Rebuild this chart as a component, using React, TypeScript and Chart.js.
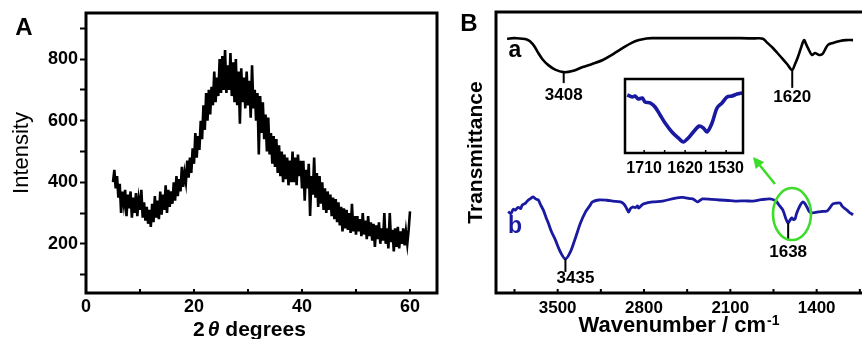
import React, { useEffect, useRef } from 'react';
import { Chart, registerables } from 'chart.js';
Chart.register(...registerables);

const FONT = 'Arial, "Liberation Sans", Helvetica, sans-serif';
Chart.defaults.font.family = FONT;
Chart.defaults.color = '#000';

const BLUE = '#1a1aa0';
const GREEN = '#3ddc2a';

// ---------- Panel A: XRD (2θ from 5° to 60°, 0.25° sampling) ----------
const xrdStart = 5;
const xrdStep = 0.25;
const xrdIntensity = [
  400, 440, 380, 420, 350, 395, 300, 370, 330, 375, 290, 360, 315, 370, 285, 350, 300, 365, 290, 345,
  310, 375, 285, 335, 275, 320, 265, 310, 255, 330, 270, 355, 285, 340, 280, 370, 295, 360, 310, 390,
  300, 375, 320, 370, 330, 400, 340, 420, 355, 410, 370, 450, 385, 430, 400, 470, 415, 480, 430, 510,
  460, 560, 480, 550, 505, 600, 540, 650, 570, 690, 600, 700, 620, 710, 650, 760, 660, 740, 680, 800,
  690, 810, 700, 830, 690, 780, 700, 820, 680, 790, 660, 800, 650, 760, 590, 770, 660, 740, 640, 760,
  650, 730, 610, 780, 640, 700, 600, 690, 490, 680, 560, 660, 540, 620, 500, 610, 490, 560, 460, 550,
  450, 540, 430, 520, 420, 500, 400, 490, 410, 480, 390, 470, 400, 500, 400, 480, 390, 490, 420, 470,
  380, 470, 340, 440, 380, 460, 290, 420, 360, 480, 350, 430, 320, 420, 330, 400, 310, 380, 300, 370,
  310, 360, 290, 350, 280, 345, 270, 335, 260, 320, 240, 315, 250, 310, 245, 300, 235, 330, 240, 290,
  230, 290, 240, 280, 225, 300, 230, 275, 215, 290, 225, 270, 210, 265, 190, 260, 215, 270, 200, 250,
  210, 300, 200, 250, 185, 300, 205, 245, 175, 250, 190, 255, 185, 240, 200, 250, 195, 240, 200, 245,
  305,
];
const xrdAngles = xrdIntensity.map((_, i) => xrdStart + i * xrdStep);
const xTicksA = [0, 10, 20, 30, 40, 50, 60];
const yTicksA = [100, 200, 300, 400, 500, 600, 700, 800, 900];

// ---------- Panel B: FTIR ----------
const waveA = [3910, 3850, 3750, 3700, 3657, 3620, 3576, 3520, 3451, 3380, 3297, 3220, 3134, 3050, 2971, 2900, 2841, 2780, 2730, 2400, 2023, 1900, 1836, 1800, 1755, 1720, 1682, 1640, 1600, 1575, 1552, 1525, 1503, 1490, 1471, 1438, 1414, 1390, 1373, 1350, 1333, 1308, 1268, 1211, 1160, 1105];
const transA = [90.5, 90.7, 90.2, 88.5, 85.4, 83.0, 81.1, 79.5, 78.6, 79.0, 80.4, 81.5, 82.9, 85.0, 87.2, 89.0, 90.0, 90.6, 90.7, 90.7, 90.7, 90.6, 90.5, 89.0, 87.2, 85.5, 83.6, 81.5, 79.4, 81.5, 84.0, 87.5, 90.0, 89.0, 87.2, 84.7, 85.4, 84.9, 84.7, 85.2, 86.5, 88.3, 89.0, 89.7, 90.0, 90.0];

const waveB = [3901, 3880, 3860, 3844, 3820, 3800, 3787, 3760, 3738, 3720, 3698, 3680, 3657, 3640, 3616, 3595, 3576, 3550, 3519, 3478, 3437, 3397, 3356, 3315, 3275, 3240, 3218, 3169, 3100, 3055, 2990, 2960, 2940, 2925, 2910, 2893, 2870, 2852, 2844, 2820, 2803, 2730, 2649, 2543, 2487, 2430, 2405, 2380, 2365, 2345, 2324, 2250, 2186, 2100, 2048, 1980, 1918, 1850, 1780, 1740, 1723, 1700, 1674, 1650, 1633, 1615, 1601, 1590, 1576, 1565, 1552, 1530, 1511, 1495, 1479, 1460, 1438, 1420, 1397, 1360, 1316, 1290, 1268, 1240, 1211, 1195, 1186, 1170, 1154, 1129, 1105];
const transB = [29.0, 28.2, 29.8, 29.5, 30.5, 30.0, 31.3, 32.0, 33.1, 33.6, 34.2, 33.5, 33.1, 31.5, 29.5, 27.0, 24.9, 21.8, 18.9, 14.6, 12.1, 14.6, 19.6, 24.9, 28.8, 31.0, 32.4, 33.1, 33.0, 32.7, 32.4, 31.5, 30.0, 28.8, 30.0, 30.6, 30.4, 31.0, 30.2, 31.2, 31.7, 32.4, 32.7, 33.8, 34.0, 33.6, 33.5, 32.8, 32.4, 33.0, 33.5, 33.3, 33.1, 32.9, 32.7, 32.8, 32.7, 33.2, 33.5, 33.0, 32.4, 31.0, 29.5, 26.5, 24.9, 26.0, 26.7, 26.2, 26.3, 28.0, 29.5, 31.5, 32.4, 31.8, 30.6, 29.0, 28.5, 28.6, 28.8, 29.0, 29.2, 30.5, 31.7, 32.0, 32.0, 31.0, 30.6, 30.0, 29.5, 28.5, 27.8];
const xTicksB = [1050, 1400, 1750, 2100, 2450, 2800, 3150, 3500, 3850];

// Inset (curve b, 1750–1495 cm-1)
const waveInset = [1747, 1736, 1730, 1723, 1714, 1708, 1697, 1686, 1675, 1664, 1649, 1635, 1624, 1613, 1602, 1589, 1580, 1572, 1561, 1550, 1539, 1528, 1517, 1506, 1495];
const transInset = [78.4, 75.7, 77.0, 73.0, 74.3, 68.9, 67.6, 62.2, 51.4, 40.5, 28.4, 20.3, 14.9, 20.3, 28.4, 36.5, 33.8, 28.4, 40.5, 60.8, 67.6, 75.7, 77.0, 79.7, 81.1];
const xTicksInset = [1530, 1575, 1620, 1665, 1710];

// Peak annotations
const peakLabels = ['3408', '1620', '3435', '1638'];
const peakWave = [3451, 1598, 3437, 1631];
const peakCurveT = [78.6, 79.4, 12.1, 24.9];
const peakLineEndT = [74.7, 73.0, 7.5, 18.9];
const peakTextT = [70.5, 69.6, 5.3, 14.6];
const peakTextDx = [0, 0, 10, 0];

const seriesNames = ['a', 'b'];
const seriesNameWave = [3846, 3846];
const seriesNameT = [86.1, 23.5];

const circleWave = 1600;
const circleT = 28.1;
const arrowFrom = [1738, 38.8];
const arrowTo = [1916, 48.4];

const setTicks = (vals: number[]) => (s: any) => {
  s.ticks = vals.map((value) => ({ value }));
};

function inwardTicks(chart: any, len: number, width: number) {
  const { ctx, chartArea: ca } = chart;
  const xs = chart.scales.x;
  ctx.save();
  ctx.strokeStyle = '#000';
  ctx.lineWidth = width;
  ctx.beginPath();
  xs.ticks.forEach((t: any) => {
    const px = xs.getPixelForValue(t.value);
    ctx.moveTo(px, ca.bottom);
    ctx.lineTo(px, ca.bottom - len);
  });
  ctx.stroke();
  ctx.restore();
}

function box(chart: any, w: number) {
  const { ctx, chartArea: ca } = chart;
  ctx.save();
  ctx.strokeStyle = '#000';
  ctx.lineWidth = w;
  ctx.strokeRect(ca.left, ca.top, ca.right - ca.left, ca.bottom - ca.top);
  ctx.restore();
}

const panelAPlugin = {
  id: 'panelA',
  afterDraw(chart: any) {
    const { ctx, chartArea: ca } = chart;
    box(chart, 3);
    inwardTicks(chart, 4, 2);
    ctx.save();
    ctx.fillStyle = '#000';
    ctx.textBaseline = 'middle';
    ctx.textAlign = 'center';
    ctx.font = `bold 24px ${FONT}`;
    ctx.fillText('A', 24, 28);
    // x title: 2θ degrees
    const y = 330;
    const cx = (ca.left + ca.right) / 2 - 12;
    ctx.textAlign = 'left';
    ctx.font = `bold 21px ${FONT}`;
    const w1 = ctx.measureText('2').width;
    const w3 = ctx.measureText(' degrees').width;
    ctx.font = `italic bold 21px ${FONT}`;
    const w2 = ctx.measureText('θ').width;
    let x = cx - (w1 + w2 + w3 + 3) / 2;
    ctx.font = `bold 21px ${FONT}`;
    ctx.fillText('2', x, y);
    x += w1 + 3;
    ctx.font = `italic bold 21px ${FONT}`;
    ctx.fillText('θ', x, y);
    x += w2;
    ctx.font = `bold 21px ${FONT}`;
    ctx.fillText(' degrees', x, y);
    ctx.restore();
  },
};

const panelBPlugin = {
  id: 'panelB',
  afterDraw(chart: any) {
    const { ctx, chartArea: ca } = chart;
    const xs = chart.scales.x;
    const ys = chart.scales.y;
    box(chart, 3);
    inwardTicks(chart, 4, 2);
    ctx.save();
    // peak annotations
    ctx.strokeStyle = '#000';
    ctx.lineWidth = 2;
    ctx.fillStyle = '#000';
    ctx.font = `bold 17px ${FONT}`;
    ctx.textAlign = 'center';
    ctx.textBaseline = 'middle';
    peakLabels.forEach((lab, i) => {
      const px = xs.getPixelForValue(peakWave[i]);
      ctx.beginPath();
      ctx.moveTo(px, ys.getPixelForValue(peakCurveT[i]));
      ctx.lineTo(px, ys.getPixelForValue(peakLineEndT[i]));
      ctx.stroke();
      ctx.fillText(lab, px + peakTextDx[i], ys.getPixelForValue(peakTextT[i]));
    });
    // series names
    ctx.font = `bold 23px ${FONT}`;
    seriesNames.forEach((n, i) => {
      ctx.fillStyle = i === 0 ? '#000' : BLUE;
      ctx.fillText(n, xs.getPixelForValue(seriesNameWave[i]), ys.getPixelForValue(seriesNameT[i]));
    });
    // green ellipse
    ctx.strokeStyle = GREEN;
    ctx.lineWidth = 2.6;
    ctx.beginPath();
    ctx.ellipse(xs.getPixelForValue(circleWave), ys.getPixelForValue(circleT), 19, 26, 0, 0, Math.PI * 2);
    ctx.stroke();
    // green arrow
    const x1 = xs.getPixelForValue(arrowFrom[0]);
    const y1 = ys.getPixelForValue(arrowFrom[1]);
    const x2 = xs.getPixelForValue(arrowTo[0]);
    const y2 = ys.getPixelForValue(arrowTo[1]);
    const ang = Math.atan2(y2 - y1, x2 - x1);
    const hl = 11;
    const hw = 5.5;
    const bx = x2 - hl * Math.cos(ang);
    const by = y2 - hl * Math.sin(ang);
    ctx.beginPath();
    ctx.moveTo(x1, y1);
    ctx.lineTo(bx, by);
    ctx.stroke();
    ctx.fillStyle = GREEN;
    ctx.beginPath();
    ctx.moveTo(x2, y2);
    ctx.lineTo(bx + hw * Math.sin(ang), by - hw * Math.cos(ang));
    ctx.lineTo(bx - hw * Math.sin(ang), by + hw * Math.cos(ang));
    ctx.closePath();
    ctx.fill();
    // panel letter
    ctx.fillStyle = '#000';
    ctx.font = `bold 24px ${FONT}`;
    ctx.fillText('B', 29, 24);
    // x title: Wavenumber / cm-1
    ctx.textAlign = 'left';
    ctx.font = `bold 22px ${FONT}`;
    const main = 'Wavenumber / cm';
    const wm = ctx.measureText(main).width;
    ctx.font = `bold 14px ${FONT}`;
    const ws = ctx.measureText('-1').width;
    const cx = (ca.left + 422) / 2;
    const sx = cx - (wm + ws + 1) / 2;
    ctx.font = `bold 22px ${FONT}`;
    ctx.fillText(main, sx, 326);
    ctx.font = `bold 14px ${FONT}`;
    ctx.fillText('-1', sx + wm + 1, 321);
    ctx.restore();
  },
};

const insetPlugin = {
  id: 'inset',
  afterDraw(chart: any) {
    box(chart, 2.5);
    inwardTicks(chart, 3, 1.5);
  },
};

export default function App() {
  const aRef = useRef<HTMLCanvasElement>(null);
  const bRef = useRef<HTMLCanvasElement>(null);
  const iRef = useRef<HTMLCanvasElement>(null);

  useEffect(() => {
    const tickFont = (size: number) => ({ size, weight: 'bold' as const, family: FONT });

    const chartA = new Chart(aRef.current!, {
      type: 'line',
      data: {
        datasets: [
          {
            data: xrdAngles.map((x, i) => ({ x, y: xrdIntensity[i] })),
            borderColor: '#000',
            borderWidth: 2.6,
            pointRadius: 0,
            tension: 0,
          },
        ],
      },
      options: {
        responsive: false,
        animation: false,
        layout: { padding: { left: 0, right: 3, top: 13, bottom: 0 } },
        plugins: { legend: { display: false }, tooltip: { enabled: false } },
        scales: {
          x: {
            type: 'linear',
            min: 0,
            max: 65,
            afterBuildTicks: setTicks(xTicksA),
            afterFit: (s: any) => { s.height = 46; },
            grid: { display: false },
            border: { display: false },
            ticks: {
              autoSkip: false,
              maxRotation: 0,
              padding: -5,
              color: '#000',
              font: tickFont(18),
              callback: (v: any) => (Number(v) % 20 === 0 ? String(v) : ''),
            },
          },
          y: {
            type: 'linear',
            min: 40,
            max: 950,
            afterBuildTicks: setTicks(yTicksA),
            afterFit: (s: any) => { s.width = 86; },
            border: { display: false },
            grid: { drawOnChartArea: false, drawTicks: true, tickLength: 6, tickWidth: 2, tickColor: '#000' },
            ticks: {
              autoSkip: false,
              padding: 2,
              color: '#000',
              font: tickFont(18),
              callback: (v: any) => (Number(v) % 200 === 0 ? String(v) : ''),
            },
            title: {
              display: true,
              text: 'Intensity',
              color: '#000',
              font: { size: 22, family: FONT },
              padding: { top: 9, bottom: 0 },
            },
          },
        },
      },
      plugins: [panelAPlugin],
    } as any);

    const chartB = new Chart(bRef.current!, {
      type: 'line',
      data: {
        datasets: [
          {
            data: waveA.map((x, i) => ({ x, y: transA[i] })),
            borderColor: '#000',
            borderWidth: 2.6,
            pointRadius: 0,
            tension: 0.35,
          },
          {
            data: waveB.map((x, i) => ({ x, y: transB[i] })),
            borderColor: BLUE,
            borderWidth: 2.8,
            pointRadius: 0,
            tension: 0.3,
          },
        ],
      },
      options: {
        responsive: false,
        animation: false,
        layout: { padding: { left: 0, right: 0, top: 12, bottom: 0 } },
        plugins: { legend: { display: false }, tooltip: { enabled: false } },
        scales: {
          x: {
            type: 'linear',
            min: 1008,
            max: 4000,
            reverse: true,
            afterBuildTicks: setTicks(xTicksB),
            afterFit: (s: any) => { s.height = 46; },
            grid: { display: false },
            border: { display: false },
            ticks: {
              autoSkip: false,
              maxRotation: 0,
              padding: -3,
              color: '#000',
              font: tickFont(17),
              callback: (v: any) => (Number(v) % 700 === 0 ? String(v) : ''),
            },
          },
          y: {
            type: 'linear',
            min: 0,
            max: 100,
            afterFit: (s: any) => { s.width = 56; },
            grid: { display: false },
            border: { display: false },
            ticks: { display: false },
            title: {
              display: true,
              text: 'Transmittance',
              color: '#000',
              font: { size: 21, weight: 'bold', family: FONT },
              padding: { top: 24, bottom: 0 },
            },
          },
        },
      },
      plugins: [panelBPlugin],
    } as any);

    const chartI = new Chart(iRef.current!, {
      type: 'line',
      data: {
        datasets: [
          {
            data: waveInset.map((x, i) => ({ x, y: transInset[i] })),
            borderColor: BLUE,
            borderWidth: 3.6,
            pointRadius: 0,
            tension: 0.3,
          },
        ],
      },
      options: {
        responsive: false,
        animation: false,
        layout: { padding: { left: 15, right: 17, top: 9, bottom: 0 } },
        plugins: { legend: { display: false }, tooltip: { enabled: false } },
        scales: {
          x: {
            type: 'linear',
            min: 1493,
            max: 1752,
            reverse: true,
            afterBuildTicks: setTicks(xTicksInset),
            afterFit: (s: any) => { s.height = 27; },
            grid: { display: false },
            border: { display: false },
            ticks: {
              autoSkip: false,
              maxRotation: 0,
              padding: -2,
              color: '#000',
              font: tickFont(16),
              callback: (v: any) => (Number(v) % 90 === 0 ? String(v) : ''),
            },
          },
          y: { type: 'linear', min: 0, max: 100, display: false },
        },
      },
      plugins: [insetPlugin],
    } as any);

    return () => {
      chartA.destroy();
      chartB.destroy();
      chartI.destroy();
    };
  }, []);

  return (
    <div style={{ position: 'absolute', left: 0, top: 0, width: 862, height: 339, overflow: 'hidden', background: '#fff' }}>
      <canvas ref={aRef} width={440} height={339} style={{ position: 'absolute', left: 0, top: 0 }} />
      <canvas ref={bRef} width={425} height={339} style={{ position: 'absolute', left: 440, top: 0 }} />
      <canvas ref={iRef} width={150} height={110} style={{ position: 'absolute', left: 610, top: 70 }} />
    </div>
  );
}
